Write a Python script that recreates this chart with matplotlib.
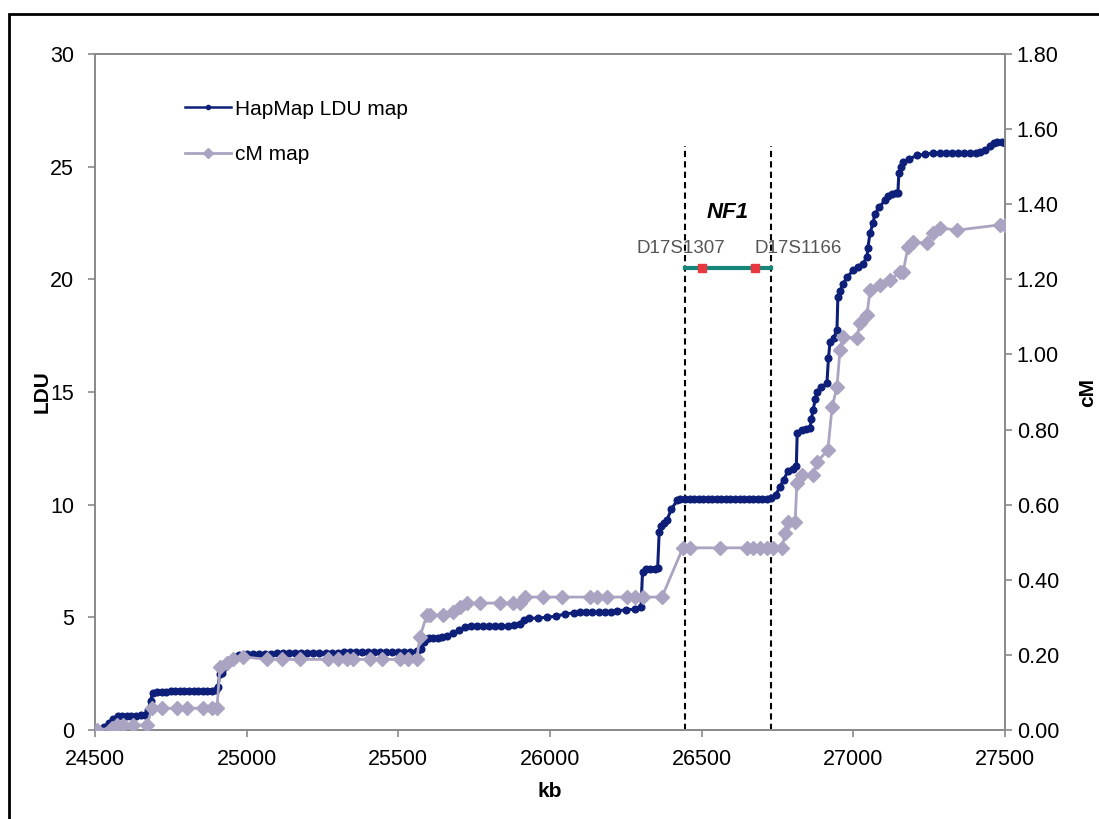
import numpy as np
import matplotlib
matplotlib.use("Agg")
import matplotlib.pyplot as plt
from matplotlib.lines import Line2D
from matplotlib.patches import Rectangle

plt.rcParams['font.family'] = ['Liberation Sans', 'DejaVu Sans']

# HapMap LDU map (kb, LDU)
ldu_kb = [24500, 24510, 24530, 24545, 24560, 24575, 24590, 24605, 24620, 24635,
          24650, 24665, 24675, 24683, 24690, 24705, 24720, 24735, 24750, 24765,
          24780, 24795, 24810, 24825, 24840, 24855, 24870, 24885, 24900, 24905,
          24912, 24920, 24930, 24945, 24960, 24975, 25000, 25020, 25040, 25060,
          25080, 25100, 25120, 25140, 25160, 25180, 25200, 25220, 25240, 25260,
          25280, 25300, 25320, 25340, 25360, 25380, 25400, 25420, 25440, 25460,
          25480, 25500, 25520, 25540, 25560, 25575, 25585, 25590, 25600, 25615,
          25630, 25645, 25660, 25680, 25700, 25720, 25740, 25760, 25780, 25800,
          25820, 25840, 25860, 25880, 25900, 25915, 25930, 25960, 25990, 26020,
          26050, 26080, 26100, 26120, 26140, 26160, 26180, 26200, 26220, 26250,
          26280, 26300, 26305, 26315, 26330, 26345, 26355, 26360, 26365, 26375,
          26385, 26400, 26420, 26430, 26445, 26460, 26475, 26490, 26505, 26520,
          26535, 26550, 26565, 26580, 26595, 26610, 26625, 26640, 26655, 26670,
          26685, 26700, 26715, 26730, 26745, 26758, 26770, 26785, 26800, 26812,
          26815, 26830, 26845, 26857, 26862, 26867, 26875, 26880, 26895, 26913,
          26918, 26923, 26935, 26946, 26949, 26957, 26966, 26980, 26999, 27015,
          27032, 27045, 27048, 27055, 27065, 27071, 27085, 27104, 27115, 27127,
          27140, 27147, 27150, 27158, 27164, 27185, 27210, 27235, 27263, 27285,
          27305, 27325, 27345, 27365, 27385, 27405, 27418, 27435, 27451, 27465,
          27474, 27490, 27500]
ldu = [0.0, 0.05, 0.15, 0.3, 0.5, 0.6, 0.6, 0.62, 0.62, 0.63,
       0.65, 0.68, 0.9, 1.3, 1.65, 1.7, 1.7, 1.7, 1.72, 1.72,
       1.72, 1.73, 1.73, 1.74, 1.74, 1.75, 1.75, 1.75, 1.78, 1.9,
       2.5, 2.55, 2.8, 3.1, 3.25, 3.35, 3.38, 3.38, 3.38, 3.39,
       3.39, 3.4, 3.4, 3.4, 3.4, 3.41, 3.42, 3.42, 3.42, 3.43,
       3.43, 3.43, 3.44, 3.44, 3.44, 3.44, 3.44, 3.45, 3.45, 3.45,
       3.45, 3.46, 3.46, 3.47, 3.5, 3.6, 3.9, 4.05, 4.08, 4.08,
       4.1, 4.12, 4.15, 4.3, 4.45, 4.55, 4.6, 4.6, 4.6, 4.6,
       4.62, 4.62, 4.63, 4.65, 4.7, 4.9, 4.95, 4.97, 5.0, 5.05,
       5.15, 5.2, 5.22, 5.22, 5.22, 5.23, 5.23, 5.25, 5.3, 5.32,
       5.37, 5.45, 7.0, 7.15, 7.15, 7.15, 7.2, 8.8, 9.05, 9.2,
       9.3, 9.8, 10.2, 10.25, 10.25, 10.25, 10.25, 10.25, 10.25, 10.25,
       10.25, 10.25, 10.25, 10.25, 10.25, 10.25, 10.25, 10.25, 10.25, 10.25,
       10.25, 10.25, 10.25, 10.3, 10.45, 10.8, 11.1, 11.5, 11.6, 11.7,
       13.2, 13.3, 13.35, 13.4, 13.8, 14.2, 14.7, 15.0, 15.2, 15.4,
       16.5, 17.2, 17.4, 17.75, 19.2, 19.5, 19.8, 20.1, 20.4, 20.55,
       20.7, 21.0, 21.4, 22.05, 22.5, 22.9, 23.2, 23.5, 23.7, 23.8,
       23.85, 23.85, 24.7, 25.0, 25.2, 25.35, 25.5, 25.55, 25.6, 25.6,
       25.6, 25.6, 25.6, 25.6, 25.6, 25.62, 25.65, 25.75, 25.9, 26.05,
       26.1, 26.1, 26.05]

# cM map (kb, cM)
cm_kb = [24507, 24556, 24573, 24592, 24625, 24671, 24688, 24721, 24770, 24803,
         24856, 24886, 24902, 24912, 24935, 24955, 24988, 25067, 25116, 25176,
         25268, 25301, 25331, 25351, 25407, 25446, 25505, 25532, 25561, 25571,
         25594, 25604, 25647, 25680, 25703, 25726, 25769, 25835, 25878, 25901,
         25918, 25977, 26040, 26132, 26155, 26188, 26254, 26280, 26307, 26369,
         26438, 26462, 26560, 26649, 26669, 26692, 26715, 26735, 26765, 26775,
         26785, 26808, 26814, 26831, 26867, 26880, 26916, 26930, 26946, 26956,
         26966, 27012, 27022, 27045, 27055, 27088, 27121, 27154, 27164, 27180,
         27197, 27243, 27263, 27286, 27342, 27483, 27500]
cm = [0.0, 0.005, 0.013, 0.013, 0.013, 0.013, 0.058, 0.058, 0.058, 0.058,
      0.058, 0.058, 0.058, 0.168, 0.178, 0.19, 0.195, 0.188, 0.188, 0.188,
      0.188, 0.188, 0.188, 0.188, 0.188, 0.188, 0.188, 0.188, 0.19, 0.248,
      0.306, 0.306, 0.306, 0.314, 0.327, 0.338, 0.338, 0.338, 0.338, 0.338,
      0.354, 0.354, 0.354, 0.354, 0.354, 0.354, 0.354, 0.354, 0.354, 0.354,
      0.485, 0.485, 0.485, 0.485, 0.485, 0.485, 0.485, 0.485, 0.485, 0.525,
      0.554, 0.554, 0.658, 0.679, 0.679, 0.714, 0.745, 0.86, 0.913, 1.012,
      1.046, 1.044, 1.084, 1.105, 1.171, 1.185, 1.198, 1.219, 1.219, 1.286,
      1.299, 1.297, 1.323, 1.337, 1.331, 1.345, 1.345]

# NF1 region
nf1_bounds = [26445, 26728]
nf1_top = 25.9
marker_kb = [26500, 26676]
marker_names = ["D17S1307", "D17S1166"]
bar_ldu = 20.5

navy = '#0d1f78'
lilac = '#aba3c2'

fig = plt.figure(figsize=(10.99, 8.19), dpi=100)
fig.patches.append(Rectangle((9 / 1099, -0.1), 1.2, 1.1 - 14 / 819,
                             transform=fig.transFigure, fill=False,
                             edgecolor='black', linewidth=2, zorder=0))

ax = fig.add_axes([95 / 1099, 1 - 730 / 819, 910 / 1099, 676 / 819])
ax2 = ax.twinx()

ax.plot(ldu_kb, ldu, color=navy, lw=2.2, marker='o', ms=4.8, zorder=3)
ax2.plot(cm_kb, cm, color=lilac, lw=2, marker='D', ms=7, zorder=3)

ax.vlines(nf1_bounds, 0, nf1_top, colors='black', linestyles=(0, (3, 2)), lw=1.5, zorder=2)
ax.plot(nf1_bounds, [bar_ldu, bar_ldu], color='#16857a', lw=3, zorder=4)
ax.plot(marker_kb, [bar_ldu, bar_ldu], 's', color='#e8383f', ms=6, zorder=5)
ax.text(sum(nf1_bounds) / 2, 22.95, "NF1", fontsize=16, fontweight='bold',
        fontstyle='italic', ha='center', va='center')
ax.text(26430, 21.35, marker_names[0], fontsize=13.5, color='#555555', ha='center', va='center')
ax.text(26818, 21.35, marker_names[1], fontsize=13.5, color='#555555', ha='center', va='center')

ax.set_xlim(24500, 27500)
ax.set_ylim(0, 30)
ax2.set_ylim(0, 1.8)
ax.set_xticks(np.arange(24500, 27501, 500))
ax.set_yticks(np.arange(0, 31, 5))
ax2.set_yticks(np.arange(0, 1.81, 0.2))
ax2.set_yticklabels([f"{v:.2f}" for v in np.arange(0, 1.81, 0.2)])

for a in (ax, ax2):
    for s in a.spines.values():
        s.set_color('#8a8a8a')
        s.set_linewidth(1.3)
    a.tick_params(labelsize=15.5, color='#8a8a8a', length=5, width=1.2)
ax.tick_params(axis='x', pad=9)
ax.tick_params(axis='y', pad=10)

ax.set_xlabel("kb", fontsize=15, fontweight='bold', labelpad=8)
ax.set_ylabel("LDU", fontsize=15, fontweight='bold', labelpad=-1)
ax2.set_ylabel("cM", fontsize=15, fontweight='bold', labelpad=14)

handles = [Line2D([], [], color=navy, lw=1.8, marker='o', ms=3),
           Line2D([], [], color=lilac, lw=2, marker='D', ms=5)]
ax2.legend(handles, ["HapMap LDU map", "cM map"], loc='upper left',
           bbox_to_anchor=(0.078, 0.96), frameon=False, fontsize=15,
           handlelength=2.2, handletextpad=0.2, labelspacing=1.25)

fig.savefig("out.png", dpi=100)
